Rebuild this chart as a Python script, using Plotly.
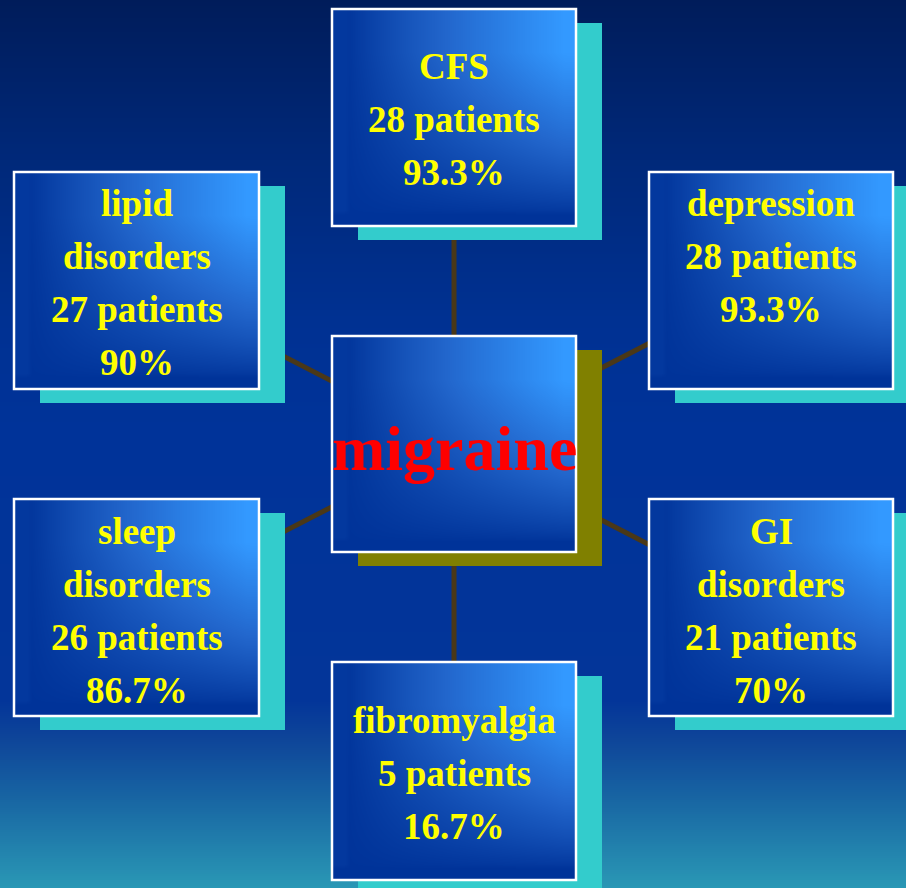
import numpy as np
import plotly.graph_objects as go

# ---------------- data ----------------
center_label = "migraine"
categories = ["CFS", "lipid disorders", "depression", "sleep disorders", "GI disorders", "fibromyalgia"]
label_lines = [["CFS"], ["lipid", "disorders"], ["depression"], ["sleep", "disorders"],
               ["GI", "disorders"], ["fibromyalgia"]]
patients = [28, 27, 28, 26, 21, 5]
percents = [93.3, 90, 93.3, 86.7, 70, 16.7]

# ---------------- layout (pixels) ----------------
W, H = 906, 888
boxes = [(332, 9, 576, 226), (14, 172, 259, 389), (649, 172, 893, 389),
         (14, 499, 259, 716), (649, 499, 893, 716), (332, 662, 576, 880)]
center_box = (332, 336, 576, 552)
first_line_offset = [57, 31, 31, 32, 32, 58]
line_step = 53.3
shadow_dx, shadow_dy = 26, 14

fig = go.Figure()
shapes = []

# background vertical gradient
bg_stops = [(0, (0x00, 0x1c, 0x5a)), (150, (0x00, 0x28, 0x78)), (320, (0x00, 0x31, 0x92)),
            (430, (0x00, 0x33, 0x99)), (700, (0x03, 0x35, 0x99)), (740, (0x0e, 0x45, 0x99)),
            (800, (0x18, 0x66, 0xa3)), (888, (0x2a, 0x98, 0xb5))]
ys = [s[0] for s in bg_stops]
step = 2
for y0 in range(0, H, step):
    yc = y0 + step / 2
    col = [np.interp(yc, ys, [s[1][i] for s in bg_stops]) for i in range(3)]
    shapes.append(dict(type="rect", x0=0, x1=W, y0=y0, y1=y0 + step + 0.5, layer="below",
                       line=dict(width=0), fillcolor="rgb(%d,%d,%d)" % tuple(int(round(c)) for c in col)))

# connector lines
cx, cy = (center_box[0] + center_box[2]) / 2, (center_box[1] + center_box[3]) / 2
for b in boxes:
    bx, by = (b[0] + b[2]) / 2, (b[1] + b[3]) / 2
    shapes.append(dict(type="line", x0=cx, y0=cy, x1=bx, y1=by, layer="below",
                       line=dict(color="#4a3818", width=5)))

# shadows
for b in boxes:
    shapes.append(dict(type="rect", x0=b[0] + shadow_dx, y0=b[1] + shadow_dy, x1=b[2] + shadow_dx,
                       y1=b[3] + shadow_dy, layer="below", line=dict(width=0), fillcolor="#33cccc"))
b = center_box
shapes.append(dict(type="rect", x0=b[0] + shadow_dx, y0=b[1] + shadow_dy, x1=b[2] + shadow_dx,
                   y1=b[3] + shadow_dy, layer="below", line=dict(width=0), fillcolor="#808000"))

# box gradient fills
box_scale = [[0, "#003399"], [0.5, "#2266cc"], [1, "#3399ff"]]
n = 48


def add_box(b):
    xe = np.linspace(b[0], b[2], n + 1)
    ye = np.linspace(b[1], b[3], n + 1)
    u = (np.arange(n) + 0.5) / n
    v = (np.arange(n) + 0.5) / n
    U, V = np.meshgrid(u, v)
    horiz = np.clip((U - 0.05) / 0.9, 0, 1) ** 0.9
    vert = np.clip(1 - np.clip(V - 0.2, 0, None) / 0.75, 0, 1)
    z = horiz * vert ** 0.8
    z = np.where(U < 0.06, 0.05, z)
    z = np.where(V > 0.94, 0.0, z)
    fig.add_trace(go.Heatmap(x=xe, y=ye, z=z, colorscale=box_scale, zmin=0, zmax=1, zsmooth="best",
                             showscale=False, hoverinfo="skip"))
    shapes.append(dict(type="rect", x0=b[0], y0=b[1], x1=b[2], y1=b[3], layer="above",
                       line=dict(color="white", width=2.5)))


for b in boxes:
    add_box(b)
add_box(center_box)

annotations = []
font = dict(family="Liberation Serif, Times New Roman, serif", size=37, color="#ffff00", weight="bold")
for i, b in enumerate(boxes):
    lines = label_lines[i] + ["%d patients" % patients[i], "%g%%" % percents[i]]
    xm = (b[0] + b[2]) / 2
    for k, t in enumerate(lines):
        annotations.append(dict(x=xm, y=b[1] + first_line_offset[i] + k * line_step, text="<b>%s</b>" % t,
                                showarrow=False, xanchor="center", yanchor="middle", font=font))
annotations.append(dict(x=cx, y=cy + 4, text="<b>%s</b>" % center_label, showarrow=False,
                        xanchor="center", yanchor="middle",
                        font=dict(family="Liberation Serif, Times New Roman, serif", size=64,
                                  color="#ff0000", weight="bold")))

fig.update_layout(width=W, height=H, margin=dict(l=0, r=0, t=0, b=0), paper_bgcolor="#003399",
                  plot_bgcolor="#003399", shapes=shapes, annotations=annotations, showlegend=False,
                  xaxis=dict(range=[0, W], visible=False, fixedrange=True),
                  yaxis=dict(range=[H, 0], visible=False, fixedrange=True))
fig.write_html("out.html", config={"displayModeBar": False},
               post_script="document.body.style.margin='0';document.body.style.padding='0';")
